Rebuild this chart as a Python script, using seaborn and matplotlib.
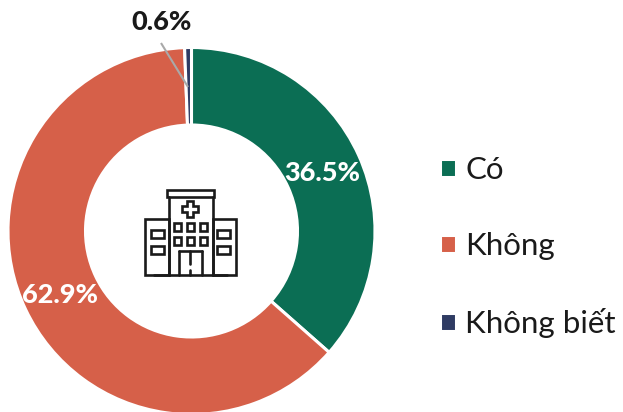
import matplotlib
matplotlib.use("Agg")
import matplotlib.pyplot as plt
from matplotlib.patches import Rectangle, Polygon
import seaborn as sns

categories = ["Có", "Không", "Không biết"]
values = [36.5, 62.9, 0.6]
value_labels = ["36.5%", "62.9%", "0.6%"]
colors = ["#0B6E54", "#D66049", "#2F3B63"]

sns.set_theme(style="white", palette=sns.color_palette(colors))
plt.rcParams["font.family"] = ["Lato", "Noto Sans", "DejaVu Sans"]

W, H = 623, 412
fig = plt.figure(figsize=(W / 100, H / 100), dpi=100, facecolor="white")
ax = fig.add_axes([0, 0, 1, 1])

wedges, _ = ax.pie(
    values, colors=sns.color_palette(), startangle=90, counterclock=False,
    center=(191.5, H - 231), radius=183.5,
    wedgeprops=dict(width=77.5, edgecolor="white", linewidth=2.2),
)
ax.set_xlim(0, W)
ax.set_ylim(0, H)
ax.set_aspect("equal")
ax.axis("off")


def Y(y):
    return H - y


lab = dict(fontweight=900, fontsize=19.5, ha="center", va="center")
ax.text(322.5, Y(173), value_labels[0], color="white", **lab)
ax.text(60, Y(295), value_labels[1], color="white", **lab)
ax.text(161.5, Y(22), value_labels[2], color="#1a1a1a", **lab)
ax.plot([161, 188], [Y(43), Y(87)], color="#A9A9A9", lw=1.5, solid_capstyle="butt")

# Legend
ax.legend(
    wedges, categories, loc="center left", bbox_to_anchor=(439.5 / W, 1 - 247 / H),
    frameon=False, fontsize=22.5, handlelength=0.52, handleheight=0.52,
    handletextpad=0.31, labelspacing=1.53, borderpad=0, borderaxespad=0,
    labelcolor="#1a1a1a",
)

# Hospital icon
ic = dict(fill=False, edgecolor="#1a1a1a", linewidth=1.9)


def box(x0, y0, x1, y1, **kw):
    style = dict(ic)
    style.update(kw)
    ax.add_patch(Rectangle((x0, Y(y1)), x1 - x0, y1 - y0, **style))


def seg(x0, y0, x1, y1):
    ax.plot([x0, x1], [Y(y0), Y(y1)], color="#1a1a1a", lw=1.9, solid_capstyle="round")


box(166.5, 190, 214, 196.5)
seg(168.5, 196.5, 168.5, 275)
seg(213, 196.5, 213, 275)
box(145, 219, 168.5, 275)
box(213, 219, 236, 275)
seg(154, 275, 227, 275)
for x0, x1 in [(151, 164), (217, 230)]:
    for y0, y1 in [(229.5, 237.5), (245.5, 254)]:
        box(x0, y0, x1, y1)
for x0, x1 in [(173.5, 180.5), (186.5, 193.5), (199.5, 207)]:
    for y0, y1 in [(223, 231), (237, 245)]:
        box(x0, y0, x1, y1)
seg(178.5, 275, 178.5, 251)
seg(178.5, 251, 201.5, 251)
seg(201.5, 251, 201.5, 275)
seg(190, 251, 190, 264)
seg(190, 270, 190, 275)
cx, cy, a, b = 190, 209, 3, 8
cross = [(-a, -b), (a, -b), (a, -a), (b, -a), (b, a), (a, a), (a, b),
         (-a, b), (-a, a), (-b, a), (-b, -a), (-a, -a)]
ax.add_patch(Polygon([(cx + u, Y(cy + v)) for u, v in cross], closed=True, **ic))

fig.savefig("out.png", dpi=100, facecolor="white")
